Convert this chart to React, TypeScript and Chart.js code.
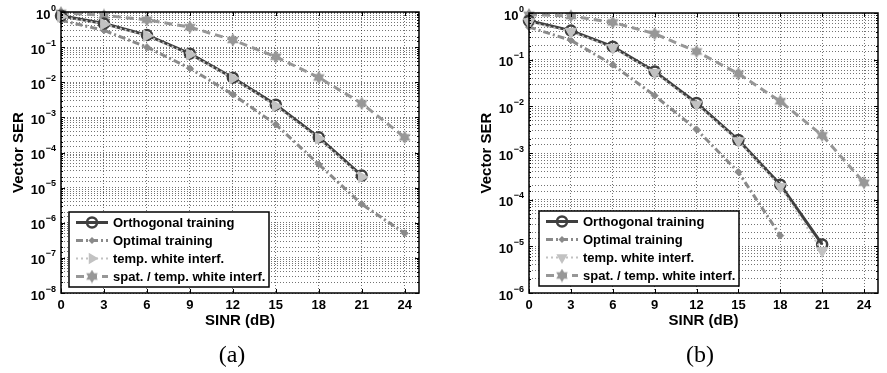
import React, { useEffect, useRef } from 'react';
import { Chart, registerables } from 'chart.js';

Chart.register(...registerables);

// ---- data ----
const sinr = [0, 3, 6, 9, 12, 15, 18, 21, 24];
const xTickLabels = ['0', '3', '6', '9', '12', '15', '18', '21', '24'];

const seriesNames = [
  'Orthogonal training',
  'Optimal training',
  'temp. white interf.',
  'spat. / temp. white interf.',
];

// panel (a)
const orthA = [0.78, 0.47, 0.22, 0.065, 0.0135, 0.0023, 2.7e-4, 2.2e-5, null];
const optA = [0.58, 0.3, 0.1, 0.025, 0.0045, 6.3e-4, 4.6e-5, 3.4e-6, 5e-7];
const tempA = [0.74, 0.45, 0.21, 0.062, 0.013, 0.0021, 2.5e-4, 2.0e-5, null];
const spatA = [0.95, 0.8, 0.6, 0.37, 0.16, 0.053, 0.0137, 0.0025, 2.7e-4];
// y tick labels: 10 raised to these exponents
const yTickExpA = ['0', '−1', '−2', '−3', '−4', '−5', '−6', '−7', '−8'];

// panel (b)
const orthB = [0.68, 0.42, 0.19, 0.056, 0.0118, 0.0019, 2.1e-4, 1.1e-5, null];
const optB = [0.5, 0.26, 0.078, 0.017, 0.0032, 3.9e-4, 1.7e-5, null, null];
const tempB = [0.64, 0.4, 0.18, 0.053, 0.011, 0.0018, 1.9e-4, 8e-6, null];
const spatB = [0.92, 0.86, 0.63, 0.36, 0.15, 0.05, 0.0128, 0.0024, 2.3e-4];
const yTickExpB = ['0', '−1', '−2', '−3', '−4', '−5', '−6'];

// ---- styling ----
const FONT = "'Liberation Sans', Arial, Helvetica, sans-serif";
const C_ORTH = '#3f3f3f';
const C_OPT = '#8a8a8a';
const C_TEMP = '#c2c2c2';
const C_SPAT = '#979797';

function makeStar(color: string, size: number) {
  const c = document.createElement('canvas');
  c.width = size;
  c.height = size;
  const ctx = c.getContext('2d')!;
  const r = size / 2 - 0.3;
  const cx = size / 2;
  const cy = size / 2;
  ctx.fillStyle = color;
  for (const off of [-Math.PI / 2, Math.PI / 2]) {
    ctx.beginPath();
    for (let k = 0; k < 3; k++) {
      const a = off + (k * 2 * Math.PI) / 3;
      const px = cx + r * Math.cos(a);
      const py = cy + r * Math.sin(a);
      if (k === 0) ctx.moveTo(px, py);
      else ctx.lineTo(px, py);
    }
    ctx.closePath();
    ctx.fill();
  }
  return c;
}

function drawMarker(ctx: CanvasRenderingContext2D, ds: any, x: number, y: number) {
  const style = ds.pointStyle;
  ctx.save();
  ctx.setLineDash([]);
  if (typeof style !== 'string') {
    ctx.drawImage(style, x - style.width / 2, y - style.height / 2);
  } else if (style === 'circle') {
    ctx.beginPath();
    ctx.arc(x, y, ds.pointRadius, 0, Math.PI * 2);
    ctx.fillStyle = ds.pointBackgroundColor;
    ctx.fill();
    ctx.lineWidth = ds.pointBorderWidth;
    ctx.strokeStyle = ds.pointBorderColor;
    ctx.stroke();
  } else if (style === 'rectRot') {
    const r = ds.pointRadius;
    ctx.beginPath();
    ctx.moveTo(x, y - r);
    ctx.lineTo(x + r, y);
    ctx.lineTo(x, y + r);
    ctx.lineTo(x - r, y);
    ctx.closePath();
    ctx.fillStyle = ds.pointBackgroundColor;
    ctx.fill();
  } else if (style === 'triangle') {
    const r = ds.pointRadius;
    let rad = ((ds.pointRotation || 0) * Math.PI) / 180;
    ctx.beginPath();
    for (let k = 0; k < 3; k++) {
      const px = x + Math.sin(rad) * r;
      const py = y - Math.cos(rad) * r;
      if (k === 0) ctx.moveTo(px, py);
      else ctx.lineTo(px, py);
      rad += (2 * Math.PI) / 3;
    }
    ctx.closePath();
    ctx.fillStyle = ds.pointBackgroundColor;
    ctx.fill();
  }
  ctx.restore();
}

function isDecade(v: number) {
  const e = Math.log10(v);
  return Math.abs(e - Math.round(e)) < 1e-9;
}

type Panel = {
  series: (number | null)[][];
  yMin: number;
  yExp: string[];
  triRotation: number;
  padTop: number;
  padRight: number;
  legendDx: number;
  legendDy: number;
};

function makeConfig(p: Panel, star: HTMLCanvasElement): any {
  const pts = (arr: (number | null)[]) =>
    sinr.map((x, i) => ({ x, y: arr[i] })).filter((d) => d.y !== null);

  const datasets = [
    {
      label: seriesNames[0],
      data: pts(p.series[0]),
      borderColor: C_ORTH,
      borderWidth: 3,
      pointStyle: 'circle',
      pointRadius: 5,
      pointBorderWidth: 2.5,
      pointBorderColor: C_ORTH,
      pointBackgroundColor: 'rgba(150,150,150,0.0)',
      order: 2,
      clip: false,
    },
    {
      label: seriesNames[1],
      data: pts(p.series[1]),
      borderColor: C_OPT,
      borderWidth: 3,
      borderDash: [7, 3, 2, 3],
      pointStyle: 'rectRot',
      pointRadius: 3.5,
      pointBorderWidth: 1,
      pointBorderColor: C_OPT,
      pointBackgroundColor: C_OPT,
      order: 3,
      clip: false,
    },
    {
      label: seriesNames[2],
      data: pts(p.series[2]),
      borderColor: C_TEMP,
      borderWidth: 2,
      borderDash: [2, 3],
      pointStyle: 'triangle',
      pointRotation: p.triRotation,
      pointRadius: 6.5,
      pointBorderWidth: 1,
      pointBorderColor: C_TEMP,
      pointBackgroundColor: C_TEMP,
      order: 1,
      clip: false,
    },
    {
      label: seriesNames[3],
      data: pts(p.series[3]),
      borderColor: C_SPAT,
      borderWidth: 3,
      borderDash: [8, 5],
      pointStyle: star,
      pointRadius: 6,
      order: 4,
      clip: false,
    },
  ];

  const framePlugin = {
    id: 'frameLegend',
    afterDraw(chart: any) {
      const { ctx, chartArea: a, scales } = chart;
      ctx.save();
      // frame
      ctx.strokeStyle = '#000';
      ctx.lineWidth = 1.5;
      ctx.setLineDash([]);
      ctx.strokeRect(a.left, a.top, a.right - a.left, a.bottom - a.top);
      // inward ticks
      ctx.lineWidth = 1;
      ctx.beginPath();
      for (const v of sinr) {
        const px = Math.round(scales.x.getPixelForValue(v)) + 0.5;
        ctx.moveTo(px, a.bottom);
        ctx.lineTo(px, a.bottom - 4);
        ctx.moveTo(px, a.top);
        ctx.lineTo(px, a.top + 4);
      }
      for (const t of scales.y.ticks) {
        const py = Math.round(scales.y.getPixelForValue(t.value)) + 0.5;
        const len = isDecade(t.value) ? 4 : 2;
        ctx.moveTo(a.left, py);
        ctx.lineTo(a.left + len, py);
        ctx.moveTo(a.right, py);
        ctx.lineTo(a.right - len, py);
      }
      ctx.stroke();

      // y tick labels: "10" with superscript exponent
      ctx.fillStyle = '#000';
      ctx.textBaseline = 'alphabetic';
      for (let e = 0; e < p.yExp.length; e++) {
        const py = scales.y.getPixelForValue(Math.pow(10, -e));
        const exp = p.yExp[e];
        ctx.font = `bold 9px ${FONT}`;
        const ew = ctx.measureText(exp).width;
        const ex = a.left - 5 - ew;
        ctx.textAlign = 'left';
        ctx.fillText(exp, ex, py - 1.5);
        ctx.font = `bold 13px ${FONT}`;
        ctx.textAlign = 'right';
        ctx.fillText('10', ex - 0.5, py + 6.5);
      }

      // legend box
      const L = a.left + p.legendDx;
      const B = a.bottom - p.legendDy;
      const W = 200;
      const H = 75;
      const T = B - H;
      ctx.fillStyle = '#fff';
      ctx.fillRect(L, T, W, H);
      ctx.strokeStyle = '#000';
      ctx.lineWidth = 1.5;
      ctx.strokeRect(L, T, W, H);

      const dss = chart.data.datasets;
      ctx.font = `bold 13px ${FONT}`;
      ctx.textBaseline = 'middle';
      ctx.textAlign = 'left';
      for (let i = 0; i < dss.length; i++) {
        const ds = dss[i];
        const cy = T + 10.5 + i * 18;
        ctx.save();
        ctx.setLineDash(ds.borderDash || []);
        ctx.strokeStyle = ds.borderColor;
        ctx.lineWidth = ds.borderWidth;
        ctx.beginPath();
        ctx.moveTo(L + 7, cy);
        ctx.lineTo(L + 39, cy);
        ctx.stroke();
        ctx.restore();
        drawMarker(ctx, ds, L + 23, cy);
        ctx.fillStyle = '#000';
        ctx.fillText(ds.label, L + 44, cy + 0.5);
      }
      ctx.restore();
    },
  };

  const tickFont = { family: FONT, weight: 'bold' as const, size: 13 };
  const titleFont = { family: FONT, weight: 'bold' as const, size: 15 };

  return {
    type: 'line',
    data: { datasets },
    plugins: [framePlugin],
    options: {
      animation: false,
      responsive: false,
      maintainAspectRatio: false,
      layout: { padding: { top: p.padTop, right: p.padRight, left: 0, bottom: 0 } },
      plugins: { legend: { display: false }, tooltip: { enabled: false } },
      elements: { line: { tension: 0 } },
      scales: {
        x: {
          type: 'linear',
          min: 0,
          max: 25,
          afterBuildTicks: (s: any) => {
            s.ticks = sinr.map((v) => ({ value: v }));
          },
          afterFit: (s: any) => {
            s.height = 47;
          },
          ticks: {
            autoSkip: false,
            maxRotation: 0,
            padding: 5,
            color: '#000',
            font: tickFont,
            callback: (v: number) => {
              const i = sinr.indexOf(v);
              return i >= 0 ? xTickLabels[i] : '';
            },
          },
          grid: { color: 'rgba(0,0,0,0.55)', lineWidth: 1, drawTicks: false },
          border: { display: false, dash: [1, 2] },
          title: {
            display: true,
            text: 'SINR (dB)',
            color: '#000',
            font: titleFont,
            padding: { top: 0, bottom: 10 },
          },
        },
        y: {
          type: 'logarithmic',
          min: p.yMin,
          max: 1,
          afterFit: (s: any) => {
            s.width = 61;
          },
          ticks: {
            autoSkip: false,
            display: false,
          },
          grid: { color: 'rgba(0,0,0,0.55)', lineWidth: 1, drawTicks: false },
          border: { display: false, dash: [1, 2] },
          title: {
            display: true,
            text: 'Vector SER',
            color: '#000',
            font: titleFont,
            padding: { top: 10, bottom: 0 },
          },
        },
      },
    },
  };
}

const panelA: Panel = {
  series: [orthA, optA, tempA, spatA],
  yMin: 1e-8,
  yExp: yTickExpA,
  triRotation: 90,
  padTop: 12,
  padRight: 21,
  legendDx: 8,
  legendDy: 6,
};

const panelB: Panel = {
  series: [orthB, optB, tempB, spatB],
  yMin: 1e-6,
  yExp: yTickExpB,
  triRotation: 180,
  padTop: 13,
  padRight: 1,
  legendDx: 10,
  legendDy: 7,
};

function PanelChart({ panel, left, width }: { panel: Panel; left: number; width: number }) {
  const ref = useRef<HTMLCanvasElement | null>(null);
  useEffect(() => {
    if (!ref.current) return;
    const star = makeStar(C_SPAT, 14);
    const chart = new Chart(ref.current, makeConfig(panel, star));
    return () => chart.destroy();
  }, [panel]);
  return (
    <canvas
      ref={ref}
      width={width}
      height={340}
      style={{ position: 'absolute', left, top: 0, width, height: 340 }}
    />
  );
}

const captionStyle: React.CSSProperties = {
  position: 'absolute',
  top: 339,
  fontFamily: "'Liberation Serif', 'DejaVu Serif', serif",
  fontSize: 24,
  lineHeight: '30px',
  width: 60,
  textAlign: 'center',
  color: '#000',
};

export default function App() {
  return (
    <div
      style={{
        position: 'absolute',
        left: 0,
        top: 0,
        width: 887,
        height: 373,
        background: '#fff',
        overflow: 'hidden',
      }}
    >
      <PanelChart panel={panelA} left={0} width={440} />
      <PanelChart panel={panelB} left={468} width={419} />
      <div style={{ ...captionStyle, left: 232 - 30 }}>(a)</div>
      <div style={{ ...captionStyle, left: 700 - 30 }}>(b)</div>
    </div>
  );
}
